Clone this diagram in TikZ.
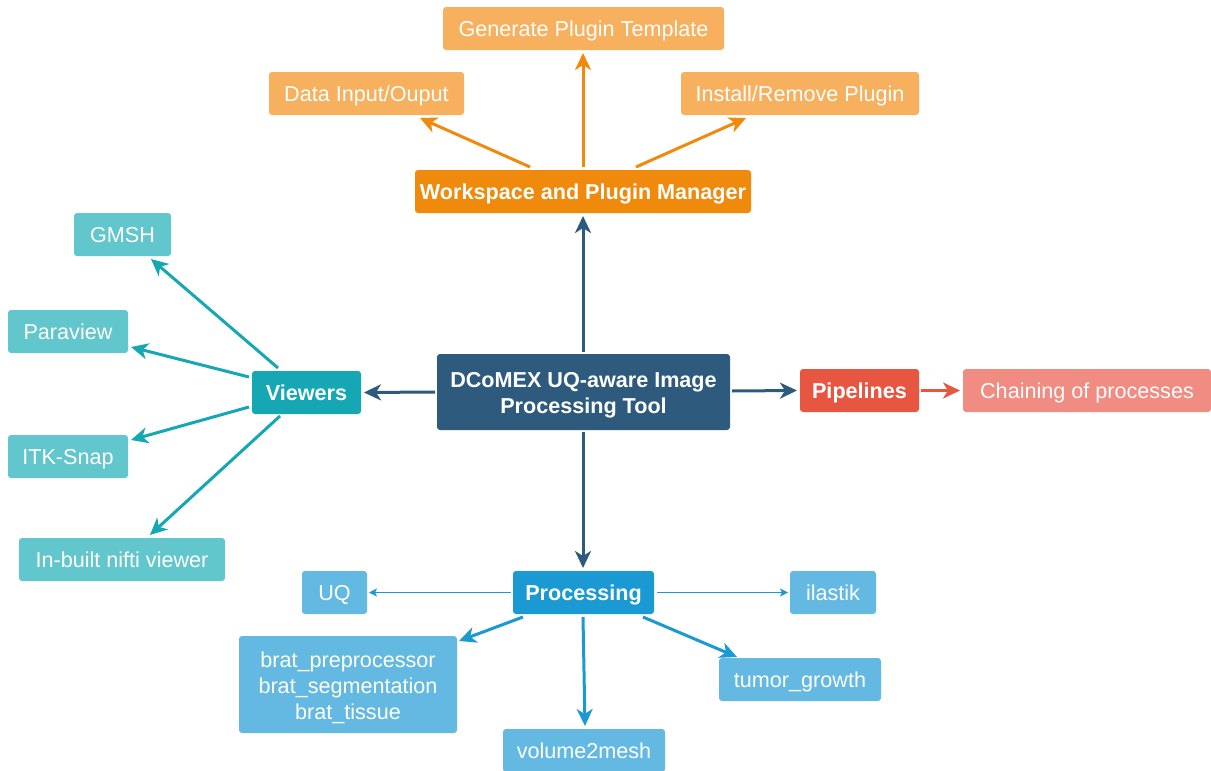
\documentclass[tikz,border=0pt]{standalone}
\usepackage{fontspec}
\setmainfont{Liberation Sans}
\usetikzlibrary{arrows.meta,calc}
\definecolor{orL}{HTML}{F6B05E}
\definecolor{orD}{HTML}{EF8A0C}
\definecolor{tlL}{HTML}{62C6CD}
\definecolor{tlD}{HTML}{15A8B4}
\definecolor{navy}{HTML}{2D5A7D}
\definecolor{rdD}{HTML}{E75641}
\definecolor{rdL}{HTML}{F08C81}
\definecolor{blD}{HTML}{1A99D3}
\definecolor{blL}{HTML}{63B9E1}
\tikzset{
  mbox/.style={rounded corners=3pt, inner sep=0pt, text=white, align=center,
    font=\fontsize{21.6}{26}\selectfont},
  box/.style={mbox, text height=15.5pt, text depth=0pt},
  bbox/.style={box, font=\fontsize{21.6}{26}\selectfont\bfseries},
  thick arrow/.style={line width=3pt, -{Stealth[length=17pt,width=16pt,inset=5pt]}},
  thin arrow/.style={line width=1.3pt, -{Stealth[length=8pt,width=8pt,inset=2pt]}},
}
\begin{document}
\begin{tikzpicture}[x=1pt,y=-1pt]
\useasboundingbox (0,0) rectangle (1211,771);
% top group
\node[box, fill=orL, minimum width=281, minimum height=43] (gen) at (583.5,28.5) {Generate Plugin Template};
\node[box, fill=orL, minimum width=195, minimum height=43] (data) at (366.5,93.5) {Data Input/Ouput};
\node[box, fill=orL, minimum width=238, minimum height=43] (inst) at (800,93.5) {Install/Remove Plugin};
\node[bbox, fill=orD, minimum width=336, minimum height=43] (ws) at (583,191.5) {Workspace and Plugin Manager};
% center
\node[mbox, font=\fontsize{21.6}{26.5}\selectfont\bfseries, fill=navy, minimum width=293, minimum height=76] (dc) at (583.5,392) {\rule{0pt}{21.5pt}DCoMEX UQ-aware Image\\Processing Tool};
% viewers
\node[bbox, fill=tlD, minimum width=109, minimum height=43] (view) at (306.5,392.5) {Viewers};
\node[box, fill=tlL, minimum width=97, minimum height=43] (gmsh) at (122.5,234.5) {GMSH};
\node[box, fill=tlL, minimum width=120, minimum height=43] (para) at (68,331.5) {Paraview};
\node[box, fill=tlL, minimum width=120, minimum height=43] (itk) at (68,456.5) {ITK-Snap};
\node[box, fill=tlL, minimum width=206, minimum height=43] (nifti) at (122,559.5) {In-built nifti viewer};
% pipelines
\node[bbox, fill=rdD, minimum width=119, minimum height=43] (pip) at (859.5,390.5) {Pipelines};
\node[box, fill=rdL, minimum width=248, minimum height=43] (chain) at (1087,390.5) {Chaining of processes};
% processing
\node[bbox, fill=blD, minimum width=141, minimum height=43] (proc) at (583.5,592.5) {Processing};
\node[box, fill=blL, minimum width=65, minimum height=43] (uq) at (334.5,592.5) {UQ};
\node[box, fill=blL, minimum width=86, minimum height=43] (ilas) at (833,592.5) {ilastik};
\node[mbox, fill=blL, minimum width=218, minimum height=97] (brat) at (348,684.5) {\rule{0pt}{22pt}brat\_preprocessor\\brat\_segmentation\\brat\_tissue};
\node[box, fill=blL, minimum width=162, minimum height=43] (tum) at (800,679.5) {tumor\_growth};
\node[box, fill=blL, minimum width=162, minimum height=43] (vol) at (584,750.5) {volume2mesh};
% arrows: workspace
\draw[thick arrow, orD] ($(ws)+(0,-24.5)$) -- ($(gen)+(-0.5,24.5)$);
\draw[thick arrow, orD] ($(ws)+(-53,-24.5)$) -- ($(data)+(53.5,24.5)$);
\draw[thick arrow, orD] ($(ws)+(53,-24.5)$) -- ($(inst)+(-54,24.5)$);
% arrows: center
\draw[thick arrow, navy] ($(dc)+(-0.5,-40)$) -- ($(ws)+(0,24.5)$);
\draw[thick arrow, navy] ($(dc)+(-148.5,0)$) -- ($(view)+(57.5,0)$);
\draw[thick arrow, navy] ($(dc)+(148.5,-1)$) -- ($(pip)+(-62.5,0)$);
\draw[thick arrow, navy] ($(dc)+(-0.5,40)$) -- ($(proc)+(-0.5,-24.5)$);
% pipelines
\draw[thick arrow, rdD] ($(pip)+(61.5,0)$) -- ($(chain)+(-127,0)$);
% viewers
\draw[thick arrow, tlD] ($(view)+(-28.5,-24.5)$) -- ($(gmsh)+(28.5,24.5)$);
\draw[thick arrow, tlD] ($(view)+(-57.5,-15.5)$) -- ($(para)+(63,15.5)$);
\draw[thick arrow, tlD] ($(view)+(-57.5,14.5)$) -- ($(itk)+(63,-16.5)$);
\draw[thick arrow, tlD] ($(view)+(-26.5,23.5)$) -- ($(nifti)+(28,-24.5)$);
% processing
\draw[thin arrow, blD] ($(proc)+(-72.5,0)$) -- ($(uq)+(34.5,0)$);
\draw[thin arrow, blD] ($(proc)+(73.5,0)$) -- ($(ilas)+(-45,0)$);
\draw[thick arrow, blD] ($(proc)+(-60.5,24.5)$) -- ($(brat)+(111,-43.5)$);
\draw[thick arrow, blD] ($(proc)+(-0.5,24.5)$) -- ($(vol)+(1,-24.5)$);
\draw[thick arrow, blD] ($(proc)+(59.5,24.5)$) -- ($(tum)+(-63,-22.5)$);
\end{tikzpicture}
\end{document}
